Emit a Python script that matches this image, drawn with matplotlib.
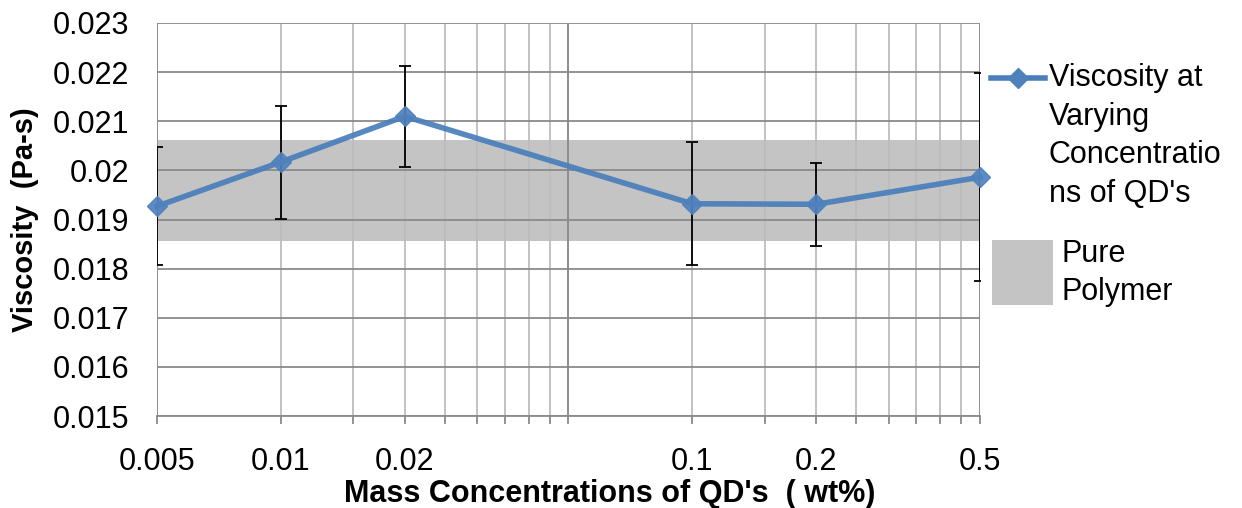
"""Viscosity vs QD mass concentration, Excel-style log chart"""
import matplotlib
matplotlib.use("Agg")
import matplotlib.pyplot as plt
from matplotlib.lines import Line2D
from matplotlib.patches import Rectangle
from matplotlib.ticker import FixedLocator, NullFormatter

plt.rcParams['font.family'] = ['Liberation Sans', 'DejaVu Sans']

# data
conc = [0.005, 0.01, 0.02, 0.1, 0.2, 0.5]
conc_labels = ["0.005", "0.01", "0.02", "0.1", "0.2", "0.5"]
viscosity = [0.01927, 0.02017, 0.02110, 0.01932, 0.01931, 0.01986]
visc_err = [0.00120, 0.00115, 0.00103, 0.00125, 0.00084, 0.00212]
pure_low, pure_high = 0.01857, 0.02061

# Excel log-axis gridlines
minor_grid = [0.005 * k for k in range(1, 11)] + [0.05 * k for k in range(2, 11)]
major_grid = [0.005, 0.05, 0.5]
y_ticks = [0.015, 0.016, 0.017, 0.018, 0.019, 0.020, 0.021, 0.022, 0.023]
y_labels = ["0.015", "0.016", "0.017", "0.018", "0.019", "0.02", "0.021", "0.022", "0.023"]

W, H = 1242, 508
fig = plt.figure(figsize=(W / 100, H / 100), dpi=100)
ax = fig.add_axes([157 / W, 1 - 416 / H, 823 / W, 393 / H])

blue = '#4A7EBB'
band = '#C4C4C4'

ax.axhspan(pure_low, pure_high, color=band, zorder=0.1, lw=0)

ax.set_xscale('log')
ax.set_xlim(0.005, 0.5)
ax.set_ylim(0.015, 0.023)

# gridlines
for x in minor_grid:
    ax.axvline(x, color='#BDBDBD', lw=1.3, zorder=0.3)
for x in major_grid:
    ax.axvline(x, color='#8A8A8A', lw=1.3, zorder=0.35)
for y in y_ticks:
    ax.axhline(y, color='#8A8A8A', lw=1.3, zorder=0.35)

ax.errorbar(conc, viscosity, yerr=visc_err, fmt='none', ecolor='black',
            elinewidth=1.3, capsize=4.5, capthick=1.3, zorder=2)
ax.plot(conc, viscosity, color=blue, lw=4, marker='D', ms=10,
        mfc='#4F81BD', mec='#4F81BD', clip_on=False, zorder=3, alpha=0.92)

for s in ['left', 'right', 'top']:
    ax.spines[s].set_visible(False)
ax.spines['bottom'].set_color('#8A8A8A')
ax.spines['bottom'].set_linewidth(1.3)

ax.xaxis.set_major_locator(FixedLocator(conc))
ax.set_xticklabels(conc_labels)
ax.xaxis.set_minor_locator(FixedLocator(minor_grid))
ax.xaxis.set_minor_formatter(NullFormatter())
ax.tick_params(axis='x', which='both', direction='out', length=5.5, width=1.3,
               color='#8A8A8A', labelsize=22, pad=17)
ax.set_yticks(y_ticks)
ax.set_yticklabels(y_labels)
ax.tick_params(axis='y', length=0, labelsize=22, pad=20)

ax.set_xlabel("Mass Concentrations of QD's  ( wt%)", fontsize=22, fontweight='bold',
              va='center')
ax.xaxis.set_label_coords(0.550, -0.198)
ax.set_ylabel("Viscosity  (Pa-s)", fontsize=21, fontweight='bold', va='center')
ax.yaxis.set_label_coords(-0.160, 0.5)

# legend drawn by hand (Excel layout)
def fx(px):
    return px / W

def fy(py):
    return 1 - py / H

fig.add_artist(Line2D([fx(991), fx(1045)], [fy(78), fy(78)], color=blue, lw=4,
                      transform=fig.transFigure))
fig.add_artist(Line2D([fx(1018)], [fy(78)], marker='D', ms=10, color='#4F81BD',
                      transform=fig.transFigure))
fig.text(fx(1049), fy(136), "Viscosity at\nVarying\nConcentratio\nns of QD's",
         fontsize=22, va='center', ha='left', linespacing=1.38)
fig.add_artist(Rectangle((fx(992), fy(305)), fx(61), 65 / H, color=band,
                         transform=fig.transFigure, lw=0))
fig.text(fx(1061), fy(273), "Pure\nPolymer", fontsize=22, va='center', ha='left',
         linespacing=1.38)

fig.savefig("out.png", dpi=100)
